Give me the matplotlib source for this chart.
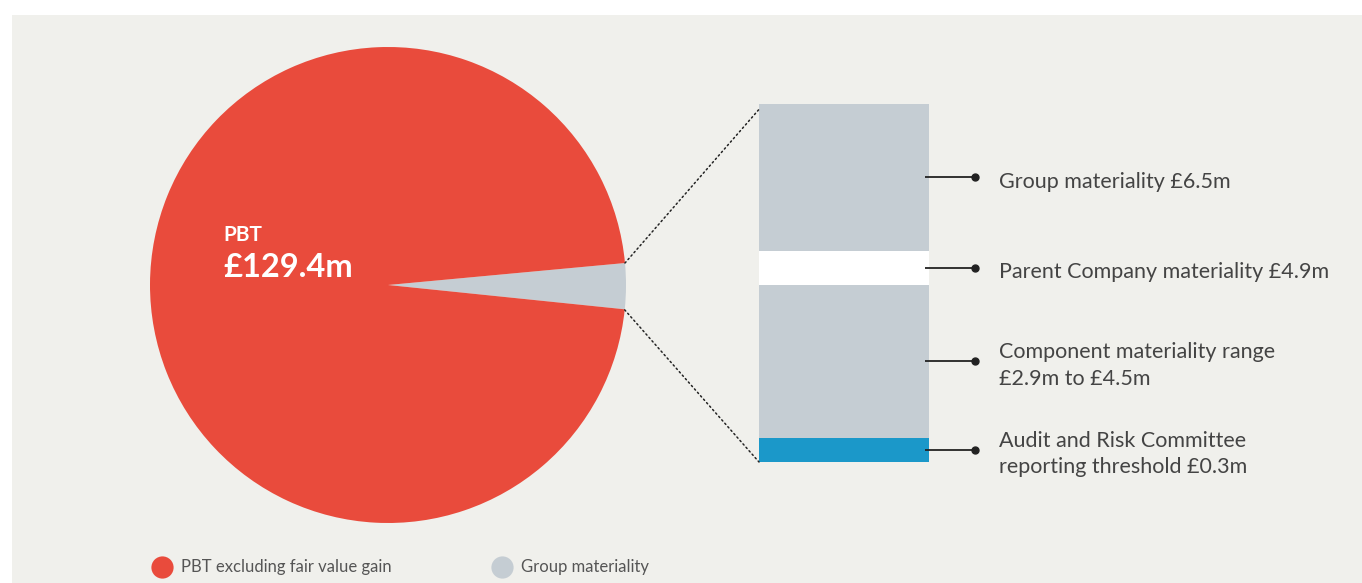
import matplotlib
matplotlib.use('Agg')
import matplotlib.pyplot as plt
from matplotlib.patches import Rectangle, ConnectionPatch
import numpy as np

# data
pie_labels = ['Group materiality', 'PBT excluding fair value gain']
pie_share = [3.1, 96.9]          # share of the circle
pbt_text = ['PBT', '£129.4m']
bar_segments = [0.44, 2.78, 0.62, 2.67]   # bottom -> top
bar_colors = ['#1b98c9', '#c5cdd3', '#ffffff', '#c5cdd3']
bar_labels = ['Audit and Risk Committee\nreporting threshold £0.3m',
              'Component materiality range\n£2.9m to £4.5m',
              'Parent Company materiality £4.9m',
              'Group materiality £6.5m']

RED = '#e94b3c'
GREY = '#c5cdd3'
BG = '#f0f0ec'
W, H = 1362, 583

plt.rcParams['font.family'] = ['Lato', 'DejaVu Sans']

fig = plt.figure(figsize=(W / 100, H / 100), dpi=100)
fig.patch.set_facecolor('white')

# background axes in pixel coordinates
bg = fig.add_axes([0, 0, 1, 1])
bg.set_xlim(0, W)
bg.set_ylim(H, 0)
bg.axis('off')
bg.add_patch(Rectangle((12, 15), W - 12, H - 15, color=BG, lw=0))

# pie
pax = fig.add_axes([150 / W, (H - 523) / H, 476 / W, 476 / H])
pax.pie(pie_share, colors=[GREY, RED], startangle=5.3, counterclock=False,
        radius=1, wedgeprops=dict(linewidth=0))
pax.set_xlim(-1, 1)
pax.set_ylim(-1, 1)
pax.set_aspect('auto')
pax.axis('off')
pax.text(-0.69, 0.21, pbt_text[0], color='white', fontsize=15, fontweight='bold',
         ha='left', va='center')
pax.text(-0.69, 0.075, pbt_text[1], color='white', fontsize=23.5, fontweight='bold',
         ha='left', va='center')

# stacked bar
bax = fig.add_axes([759 / W, (H - 462) / H, 170 / W, 358 / H])
bottoms = np.concatenate([[0], np.cumsum(bar_segments)[:-1]])
bax.bar([0.5] * len(bar_segments), bar_segments, width=1, bottom=bottoms,
        color=bar_colors, linewidth=0)
bax.set_xlim(0, 1)
bax.set_ylim(0, sum(bar_segments))
bax.axis('off')

for b, h, lab in zip(bottoms, bar_segments, bar_labels):
    y = b + h / 2
    bax.plot([0.976, 1.27], [y, y], color='#222222', lw=1.3, clip_on=False,
             solid_capstyle='butt')
    bax.plot([1.27], [y], 'o', color='#222222', ms=5, clip_on=False)
    bax.annotate(lab, xy=(1.41, y), xytext=(0, -3), textcoords='offset points',
                 fontsize=15.5, color='#444444', ha='left', va='center',
                 linespacing=1.4, annotation_clip=False)

# dotted zoom lines from the grey slice to the bar
for ang, yb in [(5.3, 0.985), (-6.0, 0.0)]:
    a = np.deg2rad(ang)
    con = ConnectionPatch(xyA=(np.cos(a), np.sin(a)), coordsA=pax.transData,
                          xyB=(0, yb), coordsB=bax.transAxes,
                          linestyle=(0, (1, 2)), color='#222222', lw=1.1)
    fig.add_artist(con)

# legend
for x, c, lab in [(162, RED, pie_labels[1]), (502, GREY, pie_labels[0])]:
    bg.plot([x], [567], 'o', color=c, ms=16, mec='none')
    bg.text(x + 19, 567, lab, fontsize=12, color='#555555',
            ha='left', va='center')

fig.savefig('out.png', dpi=100, facecolor=fig.get_facecolor())
